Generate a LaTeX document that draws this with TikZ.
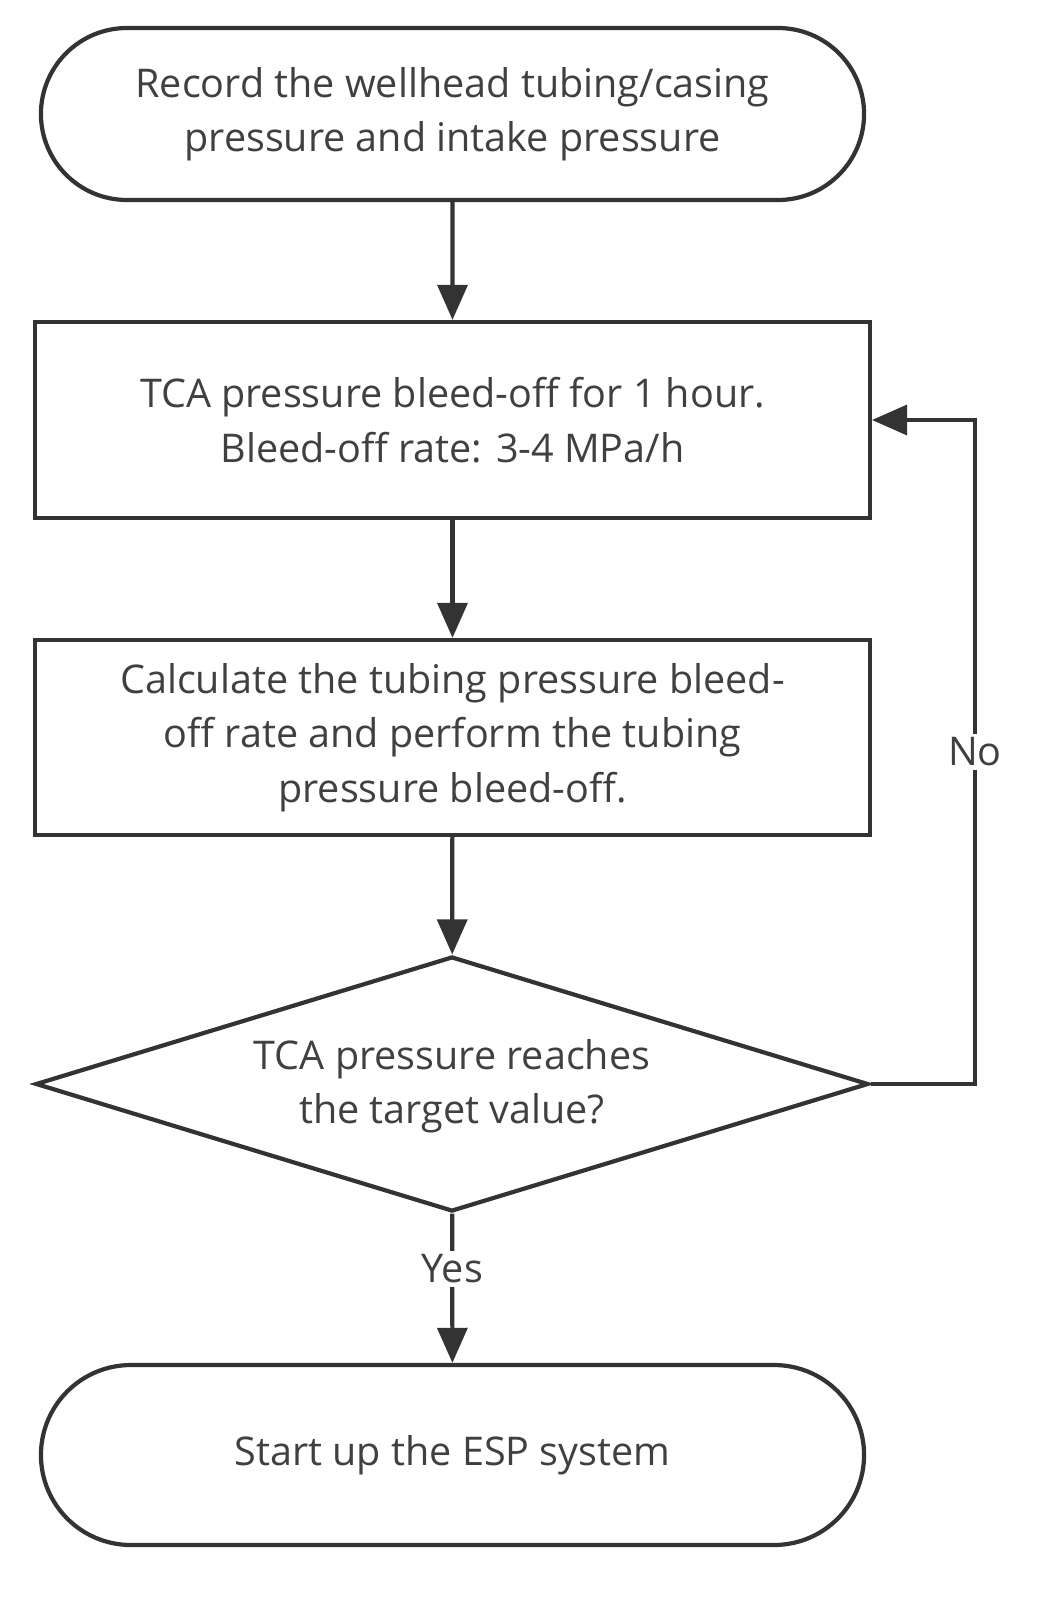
\documentclass[tikz,border=0pt]{standalone}
\usepackage{fontspec}
\setmainfont{Open Sans}
\usetikzlibrary{shapes.geometric,shapes.misc,arrows.meta}
\begin{document}
\begin{tikzpicture}[x=0.02cm,y=-0.02cm,
  line width=2.4pt, draw=black!80,
  txt/.style={font=\fontsize{22.5}{31}\selectfont, text=black!75, align=center},
  box/.style={draw=black!80, txt, minimum width=16.7cm},
  arr/.style={-{Triangle[length=20pt,width=17pt]}, draw=black!80},
  lbl/.style={txt, fill=white, inner sep=2pt}]
\useasboundingbox (0,0) rectangle (1062,1623);
\node[box, rounded rectangle, minimum height=3.44cm] (a) at (452.5,114) {Record the wellhead tubing/casing\\pressure and intake pressure};
\node[box, minimum height=3.92cm] (b) at (452.5,420) {TCA pressure bleed-off for 1 hour.\\Bleed-off rate: 3-4 MPa/h};
\node[box, minimum height=3.9cm] (c) at (452.5,737.5) {Calculate the tubing pressure bleed-\\off rate and perform the tubing\\pressure bleed-off.};
\node[draw=black!80, diamond, aspect=3.3, minimum width=16.66cm, minimum height=5.1cm, inner sep=0pt] (d) at (452,1084) {};
\node[txt] at (452,1086) {TCA pressure reaches\\the target value?};
\node[box, rounded rectangle, minimum height=3.6cm] (e) at (452.5,1455) {Start up the ESP system};
\draw[arr] (a) -- (b);
\draw[arr] (b) -- (c);
\draw[arr] (c) -- (d);
\draw[arr] (d) -- node[lbl, pos=0.37] {Yes} (e);
\coordinate (n1) at (975,1084);
\coordinate (n2) at (975,420);
\draw[arr] (d.east) -- (n1) -- node[lbl, pos=0.5] {No} (n2) -- (b.east);
\end{tikzpicture}
\end{document}
